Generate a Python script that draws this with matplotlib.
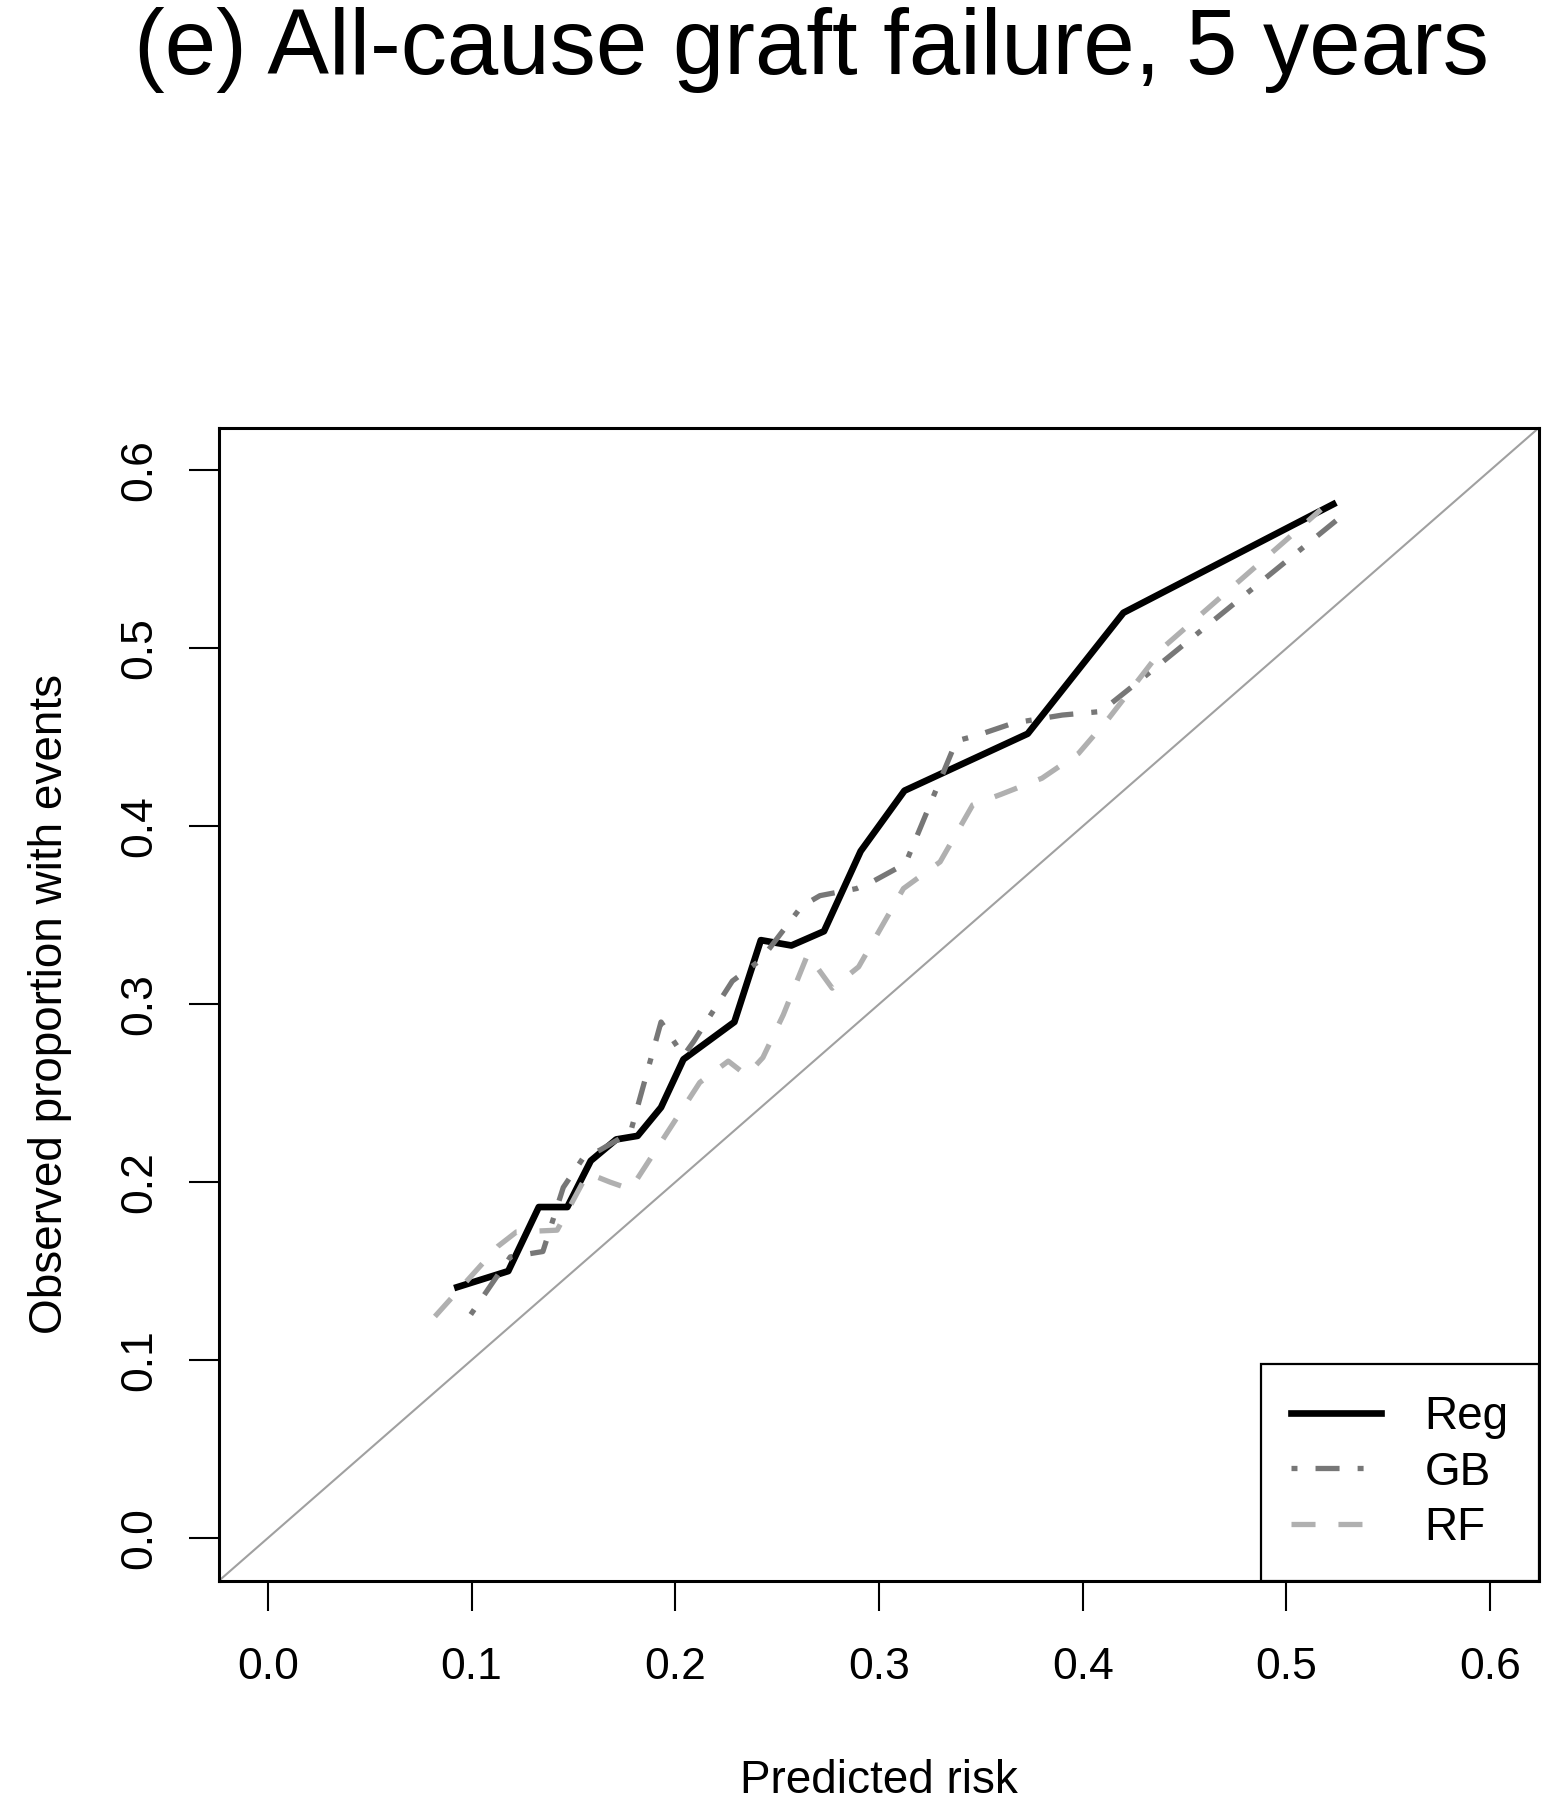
import matplotlib
matplotlib.use("Agg")
import matplotlib.pyplot as plt

plt.rcParams['font.family'] = ['Liberation Sans', 'DejaVu Sans']
plt.rcParams['lines.scale_dashes'] = False

# Calibration curves
reg_x = [0.093, 0.118, 0.133, 0.147, 0.1585, 0.171, 0.1815, 0.193, 0.204,
         0.229, 0.242, 0.257, 0.273, 0.291, 0.3125, 0.373, 0.420, 0.523]
reg_y = [0.141, 0.150, 0.186, 0.186, 0.212, 0.224, 0.226, 0.242, 0.269,
         0.290, 0.336, 0.333, 0.341, 0.386, 0.420, 0.452, 0.520, 0.581]

gb_x = [0.0996, 0.119, 0.135, 0.145, 0.155, 0.163, 0.178, 0.193, 0.204,
        0.209, 0.228, 0.242, 0.262, 0.271, 0.289, 0.297, 0.313, 0.338,
        0.348, 0.366, 0.390, 0.409, 0.427, 0.530]
gb_y = [0.1256, 0.158, 0.161, 0.197, 0.214, 0.218, 0.228, 0.290, 0.271,
        0.279, 0.313, 0.325, 0.355, 0.361, 0.365, 0.369, 0.379, 0.448,
        0.451, 0.458, 0.4625, 0.4645, 0.481, 0.577]

rf_x = [0.082, 0.113, 0.122, 0.142, 0.157, 0.168, 0.178, 0.212, 0.226,
        0.235, 0.243, 0.253, 0.265, 0.277, 0.290, 0.312, 0.330, 0.346,
        0.360, 0.380, 0.398, 0.413, 0.440, 0.517]
rf_y = [0.1245, 0.164, 0.172, 0.173, 0.205, 0.200, 0.196, 0.256, 0.268,
        0.260, 0.270, 0.294, 0.328, 0.309, 0.321, 0.365, 0.380, 0.412,
        0.418, 0.427, 0.441, 0.461, 0.501, 0.578]

ticks = [0.0, 0.1, 0.2, 0.3, 0.4, 0.5, 0.6]
tick_labels = ["0.0", "0.1", "0.2", "0.3", "0.4", "0.5", "0.6"]

fig = plt.figure(figsize=(15.47, 18), dpi=100)
ax = fig.add_axes([219 / 1547, 219.3 / 1800, 1320 / 1547, 1153 / 1800])

# reference line
ax.axline((0, 0), slope=1, color='#a0a0a0', lw=1.5, zorder=1)

ax.plot(reg_x, reg_y, color='black', lw=4.8, label='Reg', zorder=2)
ax.plot(gb_x, gb_y, color='#777777', lw=3.8, dashes=(4.3, 13, 17.3, 13),
        label='GB', zorder=3)
ax.plot(rf_x, rf_y, color='#b0b0b0', lw=3.8, dashes=(17.3, 16.5),
        label='RF', zorder=4)

ax.set_xlim(-0.024, 0.624)
ax.set_ylim(-0.024, 0.624)
ax.set_xticks(ticks)
ax.set_xticklabels(tick_labels)
ax.set_yticks(ticks)
ax.set_yticklabels(tick_labels)
ax.tick_params(length=21.6, width=1.5, labelsize=32, pad=21)
ax.tick_params(axis='x', pad=26)
for lab in ax.get_yticklabels():
    lab.set_rotation(90)
    lab.set_va('center')

for sp in ax.spines.values():
    sp.set_linewidth(2.2)

ax.set_xlabel('Predicted risk', fontsize=33, va='center')
ax.xaxis.set_label_coords(0.5, -0.1737)
ax.set_ylabel('Observed proportion with events', fontsize=33, va='center')
ax.yaxis.set_label_coords(-0.128, 0.5)

leg = ax.legend(loc='lower right', bbox_to_anchor=(1, 0), borderaxespad=0,
                fancybox=False, edgecolor='black', framealpha=1, fontsize=33,
                handlelength=1.97, handletextpad=0.95, labelspacing=0.26,
                borderpad=0.66)
leg.get_frame().set_linewidth(1.6)

fig.text(811 / 1547, 1 - 74 / 1800, '(e) All-cause graft failure, 5 years',
         ha='center', va='baseline', fontsize=66.5)

fig.savefig('out.png', dpi=100)
